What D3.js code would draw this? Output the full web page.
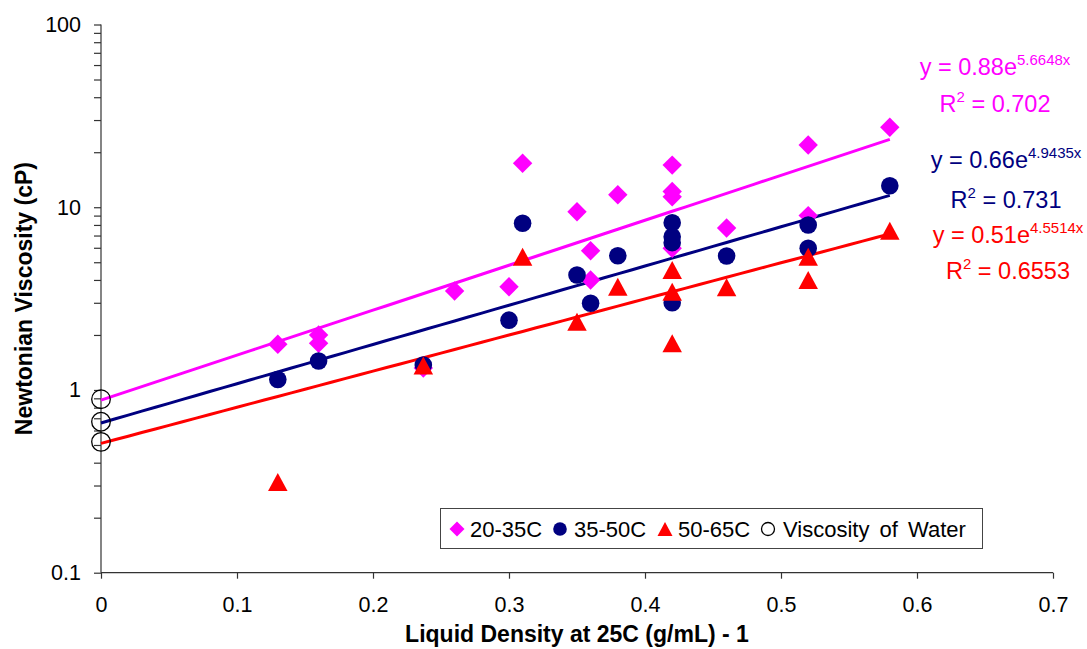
<!DOCTYPE html>
<html>
<head>
<meta charset="utf-8">
<script src="https://cdn.jsdelivr.net/npm/d3@7"></script>
<style>
  html, body { margin: 0; padding: 0; background: #fff; }
  svg { display: block; font-family: "Liberation Sans", Arial, sans-serif; }
</style>
</head>
<body>
<svg id="chart" width="1087" height="649"></svg>
<script>
// Liquid density (g/mL at 25C, minus 1) vs Newtonian viscosity (cP), by temperature band
const x2035 = [0.13, 0.16, 0.16, 0.237, 0.26, 0.30, 0.31, 0.35, 0.36, 0.36, 0.38, 0.42, 0.42, 0.42, 0.42, 0.46, 0.52, 0.52, 0.58];
const y2035 = [1.78, 2.0, 1.80, 1.32, 3.48, 3.67, 17.4, 9.45, 5.78, 4.0, 11.7, 17.0, 12.2, 11.4, 5.96, 7.7, 21.9, 9.0, 27.4];

const x3550 = [0.13, 0.16, 0.237, 0.30, 0.31, 0.35, 0.36, 0.38, 0.42, 0.42, 0.42, 0.42, 0.46, 0.52, 0.52, 0.58];
const y3550 = [1.14, 1.44, 1.37, 2.41, 8.17, 4.26, 2.98, 5.43, 8.23, 6.9, 6.4, 3.0, 5.41, 8.0, 5.96, 13.1];

const x5065 = [0.13, 0.237, 0.31, 0.35, 0.38, 0.42, 0.42, 0.42, 0.46, 0.52, 0.52, 0.58];
const y5065 = [0.314, 1.36, 5.36, 2.36, 3.67, 4.53, 3.45, 1.80, 3.65, 5.36, 4.0, 7.44];

const xWater = [0, 0, 0];
const yWater = [0.89, 0.67, 0.52];

// Exponential fits y = a * e^(b x)
const fitNames = ["20-35C", "35-50C", "50-65C"];
const fitA = [0.88, 0.66, 0.51];
const fitB = [5.6648, 4.9435, 4.5514];
const fitR2 = ["0.702", "0.731", "0.6553"];
const fitXMax = 0.58;

const xTicks = [0, 0.1, 0.2, 0.3, 0.4, 0.5, 0.6, 0.7];
const yMajor = [0.1, 1, 10, 100];

const colors = ["#FF00FF", "#000080", "#FF0000"];

const svg = d3.select("#chart");
const font = '"Liberation Sans", Arial, sans-serif';

const x = d3.scaleLinear().domain([0, 0.7]).range([101, 1053]);
const y = d3.scaleLog().domain([0.1, 100]).range([572.7, 24.5]);

// y ticks: every 1..9 per decade, labels only on decades
const yAll = [];
for (let d = 0; d < 3; d++) {
  for (let m = 1; m <= 9; m++) yAll.push(+(m * Math.pow(10, d - 1)).toPrecision(3));
}
yAll.push(100);

const yAxis = svg.append("g")
  .attr("transform", `translate(${x(0)},0)`)
  .call(d3.axisLeft(y).tickValues(yAll).tickSize(7).tickPadding(13)
    .tickFormat(v => yMajor.includes(v) ? d3.format("~g")(v) : ""));

const xAxis = svg.append("g")
  .attr("transform", `translate(0,${y(0.1)})`)
  .call(d3.axisBottom(x).tickValues(xTicks).tickSize(6).tickPadding(18)
    .tickFormat(d3.format("~g")));

[xAxis, yAxis].forEach(g => {
  g.select(".domain").attr("stroke", "#333").attr("stroke-width", 1.2);
  g.selectAll(".tick line").attr("stroke", "#333").attr("stroke-width", 1.2);
  g.selectAll(".tick text").attr("fill", "#000").style("font-family", font).style("font-size", "21.5px");
});
yAxis.select(".domain").attr("d", `M0,${y(100)}V${y(0.1)}`);
xAxis.select(".domain").attr("d", `M${x(0)},0H${x(0.7)}`);

// Axis titles
svg.append("text")
  .attr("x", (x(0) + x(0.7)) / 2).attr("y", 642)
  .attr("text-anchor", "middle")
  .style("font-family", font).style("font-size", "23px").style("font-weight", "bold")
  .text("Liquid Density at 25C (g/mL) - 1");

svg.append("text")
  .attr("transform", `translate(32,${(y(100) + y(0.1)) / 2}) rotate(-90)`)
  .attr("text-anchor", "middle")
  .style("font-family", font).style("font-size", "23px").style("font-weight", "bold")
  .text("Newtonian Viscosity (cP)");

// Trend lines
const plot = svg.append("g");
const line = d3.line().x(d => x(d[0])).y(d => y(d[1]));
fitA.forEach((a, i) => {
  const pts = d3.range(0, fitXMax + 1e-9, 0.01).map(v => [v, a * Math.exp(fitB[i] * v)]);
  plot.append("path").attr("d", line(pts))
    .attr("fill", "none").attr("stroke", colors[i]).attr("stroke-width", 3);
});

// Marker shapes
const diamond = s => `M0,${-s}L${s},0L0,${s}L${-s},0Z`;
const triangle = (w, h) => `M0,${-h / 2}L${w / 2},${h / 2}L${-w / 2},${h / 2}Z`;

const series = [
  { xs: x2035, ys: y2035, path: diamond(9.7), color: colors[0] },
  { xs: x3550, ys: y3550, circle: 8.8, color: colors[1] },
  { xs: x5065, ys: y5065, path: triangle(19.5, 18), color: colors[2] }
];

series.forEach(s => {
  const g = plot.append("g");
  s.xs.forEach((xv, j) => {
    const cx = x(xv), cy = y(s.ys[j]);
    if (s.circle) {
      g.append("circle").attr("cx", cx).attr("cy", cy).attr("r", s.circle).attr("fill", s.color);
    } else {
      g.append("path").attr("d", s.path).attr("transform", `translate(${cx},${cy})`).attr("fill", s.color);
    }
  });
});

// Water reference points (open circles)
plot.append("g").selectAll("circle")
  .data(xWater.map((v, i) => [v, yWater[i]]))
  .join("circle")
  .attr("cx", d => x(d[0])).attr("cy", d => y(d[1])).attr("r", 9.3)
  .attr("fill", "none").attr("stroke", "#000").attr("stroke-width", 1.3);

// Fit equations
const eqPos = [
  { cx: 995, y1: 75, y2: 112 },
  { cx: 1006, y1: 168, y2: 208 },
  { cx: 1008, y1: 243, y2: 279 }
];
eqPos.forEach((p, i) => {
  const t1 = svg.append("text").attr("x", p.cx).attr("y", p.y1).attr("text-anchor", "middle")
    .attr("fill", colors[i]).style("font-family", font).style("font-size", "23.5px");
  t1.append("tspan").text(`y = ${fitA[i]}e`);
  t1.append("tspan").attr("dy", -10).style("font-size", "15px").text(`${fitB[i]}x`);

  const t2 = svg.append("text").attr("x", p.cx).attr("y", p.y2).attr("text-anchor", "middle")
    .attr("fill", colors[i]).style("font-family", font).style("font-size", "23.5px");
  t2.append("tspan").text("R");
  t2.append("tspan").attr("dy", -10).style("font-size", "15px").text("2");
  t2.append("tspan").attr("dy", 10).text(` = ${fitR2[i]}`);
});

// Legend
const legend = svg.append("g");
legend.append("rect").attr("x", 440.5).attr("y", 508.5).attr("width", 542).attr("height", 40)
  .attr("fill", "#fff").attr("stroke", "#444").attr("stroke-width", 1);
const legendItems = [
  { label: fitNames[0], mx: 457, tx: 470, draw: g => g.append("path").attr("d", diamond(7.5)).attr("fill", colors[0]) },
  { label: fitNames[1], mx: 560, tx: 574, draw: g => g.append("circle").attr("r", 6.8).attr("fill", colors[1]) },
  { label: fitNames[2], mx: 665, tx: 678, draw: g => g.append("path").attr("d", triangle(15, 14)).attr("fill", colors[2]) },
  { label: "Viscosity of Water", mx: 768, tx: 783, draw: g => g.append("circle").attr("r", 6.5).attr("fill", "none").attr("stroke", "#000").attr("stroke-width", 1.3) }
];
legendItems.forEach(it => {
  const g = legend.append("g").attr("transform", `translate(${it.mx},529)`);
  it.draw(g);
  legend.append("text").attr("x", it.tx).attr("y", 537)
    .style("font-family", font).style("font-size", "22px")
    .style("word-spacing", it.label.includes(" ") ? "4px" : "0px")
    .text(it.label);
});
</script>
</body>
</html>
